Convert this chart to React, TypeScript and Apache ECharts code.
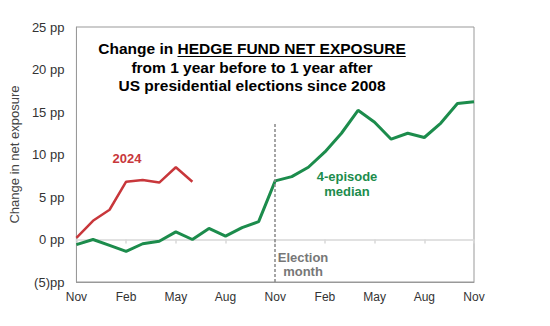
import React, { useEffect, useRef } from "react";
import * as echarts from "echarts";

const months = [
  "Nov", "Dec", "Jan", "Feb", "Mar", "Apr", "May", "Jun", "Jul", "Aug", "Sep", "Oct",
  "Nov", "Dec", "Jan", "Feb", "Mar", "Apr", "May", "Jun", "Jul", "Aug", "Sep", "Oct", "Nov",
];
const medianSeries = [
  -0.6, 0.0, -0.7, -1.4, -0.5, -0.2, 0.9, 0.0, 1.3, 0.4, 1.4, 2.1, 6.9,
  7.4, 8.5, 10.3, 12.5, 15.2, 13.8, 11.8, 12.5, 12.0, 13.7, 16.0, 16.2,
];
const series2024 = [0.2, 2.2, 3.5, 6.8, 7.0, 6.7, 8.5, 6.8];
const yTicks = { min: -5, max: 25, interval: 5 };
const electionIndex = 12;
const electionLineTop = 13.7;

const FONT = '"Liberation Sans", Arial, sans-serif';
const RED = "#c8373b";
const GREEN = "#1c8c4c";

export default function App() {
  const ref = useRef<HTMLDivElement>(null);
  useEffect(() => {
    document.body.style.margin = "0";
    const chart = echarts.init(ref.current!, null, { renderer: "svg" });

    const titleFont = `bold 15.5px ${FONT}`;
    const ctx = document.createElement("canvas").getContext("2d")!;
    ctx.font = titleFont;
    const t1 = "Change in ";
    const t2 = "HEDGE FUND NET EXPOSURE";
    const w1 = ctx.measureText(t1).width;
    const w2 = ctx.measureText(t2).width;
    const cx = 252;
    const sx = cx - (w1 + w2) / 2;

    const txt = (text: string, x: number, y: number, font: string, fill: string, align = "center") => ({
      type: "text",
      x,
      y,
      silent: true,
      style: {
        text,
        font,
        fill,
        align,
        textAlign: align,
        verticalAlign: "middle",
        textVerticalAlign: "middle",
      },
    });

    chart.setOption({
      animation: false,
      grid: { left: 75, top: 27, right: 76, bottom: 44, show: true, borderColor: "#999", borderWidth: 1 },
      xAxis: [
        {
          type: "category",
          data: months,
          boundaryGap: false,
          position: "bottom",
          axisLine: { show: true, onZero: false, lineStyle: { color: "#999" } },
          axisTick: { show: false },
          axisLabel: {
            interval: 2,
            color: "#333",
            fontSize: 12,
            fontFamily: FONT,
            margin: 9,
          },
          splitLine: { show: false },
        },
        {
          type: "category",
          data: months,
          boundaryGap: false,
          position: "top",
          axisLine: { show: true, onZero: true, lineStyle: { color: "#d8d8d8", width: 1.5 } },
          axisTick: { show: true, inside: true, interval: 2, length: 4, lineStyle: { color: "#d8d8d8", width: 1.5 } },
          axisLabel: { show: false },
          splitLine: { show: false },
        },
      ],
      yAxis: {
        type: "value",
        min: yTicks.min,
        max: yTicks.max,
        interval: yTicks.interval,
        name: "Change in net exposure",
        nameLocation: "middle",
        nameGap: 45,
        nameTextStyle: { color: "#444", fontSize: 13, fontFamily: FONT },
        axisLine: { show: true, lineStyle: { color: "#999" } },
        axisTick: { show: false },
        axisLabel: {
          color: "#333",
          fontSize: 13,
          fontFamily: FONT,
          margin: 12,
          formatter: (v: number) => (v < 0 ? `(${-v})pp` : `${v} pp`),
        },
        splitLine: { show: false },
      },
      series: [
        {
          type: "line",
          data: medianSeries,
          symbol: "none",
          lineStyle: { color: GREEN, width: 3 },
          z: 3,
          markLine: {
            silent: true,
            symbol: ["none", "none"],
            label: { show: false },
            lineStyle: { color: "#888", type: [3, 2], width: 1.5 },
            data: [[{ coord: [electionIndex, yTicks.min] }, { coord: [electionIndex, electionLineTop] }]],
          },
        },
        {
          type: "line",
          data: series2024,
          symbol: "none",
          lineStyle: { color: RED, width: 2.5 },
          z: 4,
        },
      ],
      graphic: [
        txt(t1, sx, 48, titleFont, "#000", "left"),
        txt(t2, sx + w1, 48, titleFont, "#000", "left"),
        {
          type: "line",
          silent: true,
          shape: { x1: sx + w1, y1: 56.5, x2: sx + w1 + w2, y2: 56.5 },
          style: { stroke: "#000", lineWidth: 1.2 },
        },
        txt("from 1 year before to 1 year after", cx, 67, titleFont, "#000"),
        txt("US presidential elections since 2008", cx, 85, titleFont, "#000"),
        txt("2024", 127, 158, `bold 13px ${FONT}`, RED),
        txt("4-episode", 347, 176, `bold 13px ${FONT}`, GREEN),
        txt("median", 347, 191, `bold 13px ${FONT}`, GREEN),
        txt("Election", 303, 257, `bold 13px ${FONT}`, "#777"),
        txt("month", 303, 271, `bold 13px ${FONT}`, "#777"),
      ],
    });
    return () => chart.dispose();
  }, []);
  return <div ref={ref} style={{ width: 550, height: 326 }} />;
}
